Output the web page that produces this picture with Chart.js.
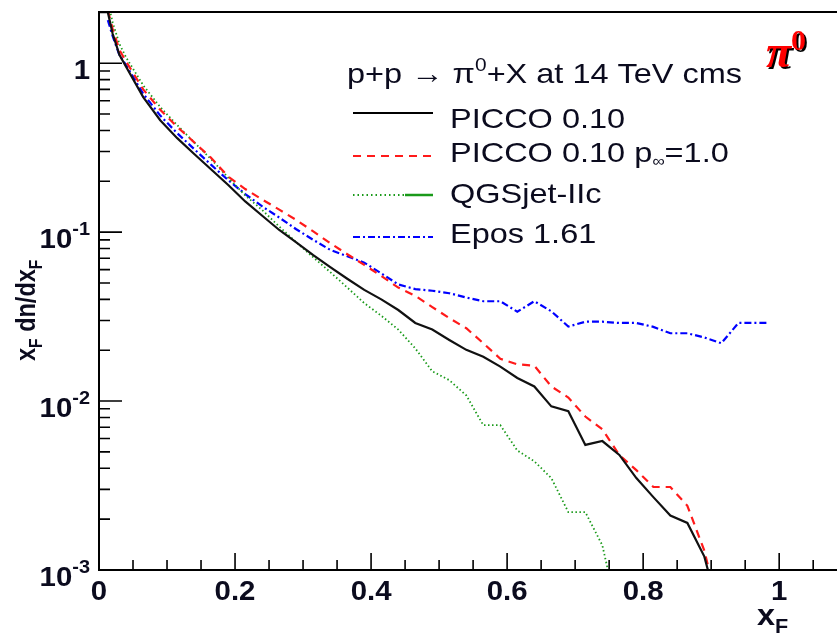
<!DOCTYPE html>
<html lang="en">
<head>
<meta charset="UTF-8" />
<title>pi0 xF spectrum</title>
<script src="https://cdn.jsdelivr.net/npm/chart.js"></script>
<style>
  html, body { margin: 0; padding: 0; background: #fff; }
  #wrap { position: relative; width: 837px; height: 636px; }
</style>
</head>
<body>
<div id="wrap"><canvas id="myChart"></canvas></div>
<script>
// x_F bin centres
const xF = [0.013, 0.02, 0.03, 0.04, 0.065, 0.09, 0.115, 0.14, 0.165, 0.19,
  0.215, 0.24, 0.265, 0.29, 0.315, 0.34, 0.365, 0.39, 0.415, 0.44,
  0.465, 0.49, 0.515, 0.54, 0.565, 0.59, 0.615, 0.64, 0.665, 0.69,
  0.715, 0.74, 0.765, 0.79, 0.815, 0.84, 0.865, 0.89, 0.915, 0.94,
  0.965, 0.985];

const picco = [2.0, 1.5, 1.12, 0.95, 0.63, 0.46, 0.36, 0.29, 0.235, 0.19,
  0.152, 0.125, 0.103, 0.087, 0.073, 0.062, 0.053, 0.0455, 0.040, 0.0346,
  0.029, 0.0265, 0.023, 0.0201, 0.0183, 0.016, 0.0137, 0.0122, 0.0093, 0.0087,
  0.0055, 0.0058, 0.0048, 0.0035, 0.0027, 0.0021, 0.0019, 0.0012, 0.0005, null,
  null, null];

const piccoPinf = [2.05, 1.6, 1.2, 1.02, 0.70, 0.53, 0.42, 0.34, 0.275, 0.213,
  0.18, 0.156, 0.136, 0.118, 0.101, 0.086, 0.074, 0.064, 0.055, 0.047,
  0.042, 0.036, 0.031, 0.027, 0.022, 0.0178, 0.0165, 0.0162, 0.0122, 0.0105,
  0.0081, 0.0068, 0.0048, 0.0039, 0.0031, 0.0031, 0.0024, 0.0013, 0.0005, null,
  null, null];

const qgsjet = [2.3, 1.75, 1.3, 1.08, 0.74, 0.55, 0.43, 0.34, 0.27, 0.21,
  0.165, 0.135, 0.108, 0.087, 0.071, 0.058, 0.047, 0.038, 0.032, 0.0265,
  0.0205, 0.015, 0.0133, 0.0108, 0.0072, 0.0072, 0.0051, 0.0044, 0.0035, 0.0022,
  0.0022, 0.0014, 0.0005, null, null, null, null, null, null, null,
  null, null];

const epos = [1.8, 1.45, 1.12, 0.97, 0.66, 0.49, 0.385, 0.31, 0.25, 0.203,
  0.168, 0.142, 0.122, 0.104, 0.09, 0.0785, 0.072, 0.066, 0.057, 0.049,
  0.046, 0.045, 0.0435, 0.041, 0.039, 0.039, 0.0338, 0.039, 0.034, 0.0276,
  0.0295, 0.0295, 0.029, 0.029, 0.0275, 0.0252, 0.0252, 0.0238, 0.022, 0.029,
  0.029, 0.029];

const xTicks = [0, 0.2, 0.4, 0.6, 0.8, 1];
const xTickLabels = ['0', '0.2', '0.4', '0.6', '0.8', '1'];
const yTicks = [0.001, 0.01, 0.1, 1];
const yTickLabels = [['10', '-3'], ['10', '-2'], ['10', '-1'], ['1', '']];

const seriesNames = ['PICCO 0.10', 'PICCO 0.10 p', 'QGSjet-IIc', 'Epos 1.61'];

const pts = (arr) => xF.map((x, i) => ({ x: x, y: arr[i] })).filter((p) => p.y !== null);

const SANS = '"Liberation Sans", Arial, sans-serif';
const INK = '#0b0b1e';
const SX = 1.16;

function runs(ctx, x, y, list, sx) {
  let cx = x;
  list.forEach((r) => {
    ctx.font = r.font;
    ctx.save();
    ctx.translate(cx, y + (r.dy || 0));
    ctx.scale(sx, 1);
    ctx.textAlign = 'left';
    ctx.textBaseline = 'alphabetic';
    ctx.fillStyle = r.color || INK;
    ctx.fillText(r.t, 0, 0);
    ctx.restore();
    cx += ctx.measureText(r.t).width * sx;
  });
  return cx;
}
function runsWidth(ctx, list, sx) {
  let w = 0;
  list.forEach((r) => { ctx.font = r.font; w += ctx.measureText(r.t).width * sx; });
  return w;
}

const decor = {
  id: 'decor',
  afterDatasetsDraw(chart) {
    const ctx = chart.ctx;
    const xs = chart.scales.x, ys = chart.scales.y;
    const a = chart.chartArea;
    ctx.save();
    ctx.strokeStyle = '#000';
    ctx.lineWidth = 2;
    ctx.setLineDash([]);
    ctx.beginPath();
    ctx.moveTo(a.right + 2, a.top); ctx.lineTo(a.left, a.top);
    ctx.lineTo(a.left, a.bottom); ctx.lineTo(a.right + 2, a.bottom);
    ctx.stroke();

    // x ticks, inside
    ctx.lineWidth = 1.6;
    ctx.beginPath();
    for (let i = 0; i <= 21; i++) {
      const v = i * 0.05;
      const px = xs.getPixelForValue(v);
      const len = i % 4 === 0 ? 17 : 10;
      ctx.moveTo(px, a.bottom); ctx.lineTo(px, a.bottom - len);
    }
    // y ticks, inside
    for (let k = -3; k <= 0; k++) {
      for (let m = 1; m <= 9; m++) {
        const v = m * Math.pow(10, k);
        if (v > ys.max) continue;
        const py = ys.getPixelForValue(v);
        const len = m === 1 ? 23 : 11;
        ctx.moveTo(a.left, py); ctx.lineTo(a.left + len, py);
      }
    }
    ctx.stroke();

    // tick labels
    const big = 'bold 28px ' + SANS, sup = 'bold 19px ' + SANS;
    xTicks.forEach((v, i) => {
      const px = xs.getPixelForValue(v);
      const r = [{ t: xTickLabels[i], font: big }];
      const w = runsWidth(ctx, r, 1.05);
      runs(ctx, px - w / 2, a.bottom + 30, r, 1.05);
    });
    yTicks.forEach((v, i) => {
      const py = ys.getPixelForValue(v);
      const r = [{ t: yTickLabels[i][0], font: big }];
      if (yTickLabels[i][1]) r.push({ t: yTickLabels[i][1], font: sup, dy: -13 });
      const w = runsWidth(ctx, r, 1.05);
      runs(ctx, 90 - w, py + 16, r, 1.05);
    });

    // axis titles
    runs(ctx, 757, 625, [{ t: 'x', font: 'bold 30px ' + SANS }, { t: 'F', font: 'bold 20px ' + SANS, dy: 8 }], 1.08);
    ctx.save();
    ctx.translate(35, 361);
    ctx.rotate(-Math.PI / 2);
    runs(ctx, 0, 0, [
      { t: 'x', font: 'bold 27px ' + SANS },
      { t: 'F', font: 'bold 18px ' + SANS, dy: 7 },
      { t: ' dn/dx', font: 'bold 27px ' + SANS },
      { t: 'F', font: 'bold 18px ' + SANS, dy: 7 }
    ], 0.87);
    ctx.restore();

    // legend
    const lf = '28px ' + SANS, lsup = '18px ' + SANS;
    runs(ctx, 347, 83, [
      { t: 'p+p \u2192 \u03c0', font: lf },
      { t: '0', font: lsup, dy: -12 },
      { t: '+X at 14 TeV cms', font: lf }
    ], SX);
    const rows = [
      { y: 113, base: 128, color: '#000', dash: [], w: 2 },
      { y: 156, base: 162, color: '#ff1a1a', dash: [8, 6], w: 2 },
      { y: 195, base: 203, color: '#1a9a1a', dash: [1.5, 3], w: 1.8 },
      { y: 237, base: 243, color: '#0000ff', dash: [7, 3, 2, 3], w: 2 }
    ];
    rows.forEach((r, i) => {
      ctx.strokeStyle = r.color;
      ctx.lineWidth = r.w;
      ctx.setLineDash(r.dash);
      ctx.beginPath();
      const x1 = i === 2 ? 405 : 433;
      ctx.moveTo(353, r.y); ctx.lineTo(x1, r.y);
      ctx.stroke();
      if (i === 2) {
        ctx.setLineDash([]);
        ctx.lineWidth = 2.5;
        ctx.beginPath(); ctx.moveTo(405, r.y); ctx.lineTo(433, r.y); ctx.stroke();
      }
      const txt = [{ t: seriesNames[i], font: lf }];
      if (i === 1) {
        txt.push({ t: '\u221e', font: '15px ' + SANS, dy: 4 });
        txt.push({ t: '=1.0', font: lf });
      }
      runs(ctx, 450, r.base, txt, SX);
    });
    ctx.setLineDash([]);

    // pi0 label, red with dark shadow
    const pf = 'bold italic 46px "Liberation Serif", serif';
    const pf0 = 'bold 30px "Liberation Serif", serif';
    [['#000', 2], ['#ff0000', 0]].forEach(([c, o]) => {
      runs(ctx, 766 + o, 67 + o, [
        { t: '\u03c0', font: pf, color: c },
        { t: '0', font: pf0, color: c, dy: -17 }
      ], 1.0);
    });
    ctx.restore();
  }
};

const data = {
  datasets: [
    { label: seriesNames[0], data: pts(picco), borderColor: '#111', borderWidth: 2.2 },
    { label: seriesNames[1], data: pts(piccoPinf), borderColor: '#ff1a1a', borderWidth: 2.2, borderDash: [8, 6] },
    { label: seriesNames[2], data: pts(qgsjet), borderColor: '#1a9a1a', borderWidth: 1.8, borderDash: [1.5, 2.5] },
    { label: seriesNames[3], data: pts(epos), borderColor: '#0000ff', borderWidth: 2.2, borderDash: [7, 3, 2, 3] }
  ]
};

const config = {
  type: 'line',
  data: data,
  options: {
    responsive: true,
    maintainAspectRatio: false,
    animation: false,
    layout: { padding: { left: 99, right: 0, top: 12, bottom: 66 } },
    elements: { point: { radius: 0 }, line: { tension: 0, fill: false } },
    plugins: { legend: { display: false }, tooltip: { enabled: false } },
    scales: {
      x: { type: 'linear', min: 0, max: 1.085, display: false },
      y: { type: 'logarithmic', min: 0.001, max: 2.01, display: false }
    }
  },
  plugins: [decor]
};

const myChart = new Chart(document.getElementById('myChart'), config);
</script>
</body>
</html>
